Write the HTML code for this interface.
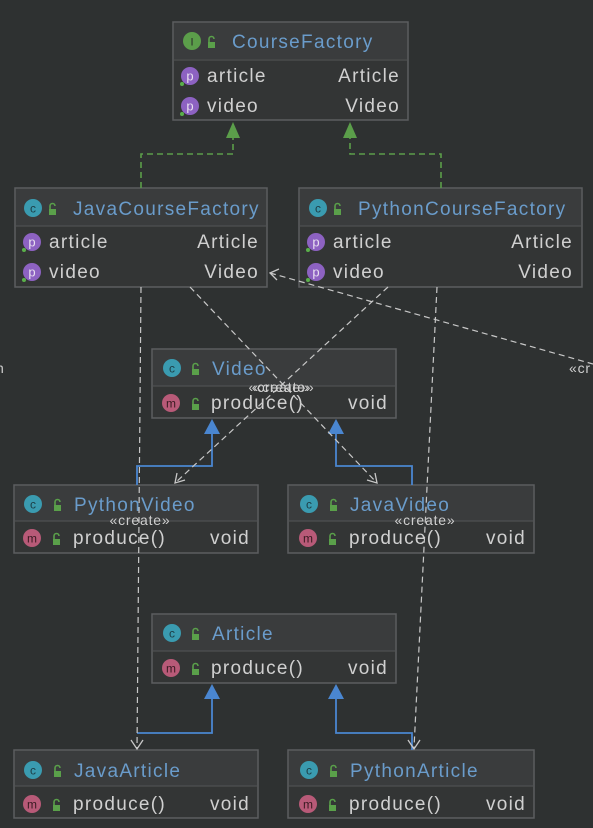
<!DOCTYPE html>
<html><head><meta charset="utf-8"><style>
html,body{margin:0;padding:0;background:#2e3131;}
svg{display:block}
text{font-family:"Liberation Sans","DejaVu Sans",sans-serif;}
.t{fill:#6a9ccb;font-size:19px;letter-spacing:1.3px}
.r{fill:#d0d0d0;font-size:19px;letter-spacing:1.3px}
.lbl{fill:#cfcfcf;font-size:14px;letter-spacing:0.8px}
</style></head><body>
<svg width="593" height="828" viewBox="0 0 593 828" xmlns="http://www.w3.org/2000/svg">
<defs>
<g id="lock"><rect x="-3" y="0" width="7" height="6" fill="#5aa04a"/><path d="M-2 0 v-3 a2.5 2.5 0 0 1 5 0" stroke="#5aa04a" stroke-width="1.6" fill="none"/></g>
</defs>
<rect width="593" height="828" fill="#2e3131"/>

<g stroke="#5c5e60" stroke-width="1.5">
<rect x="173" y="22" width="235" height="98" fill="#333535"/>
<rect x="15" y="188" width="252" height="99" fill="#333535"/>
<rect x="299" y="188" width="283" height="99" fill="#333535"/>
<rect x="152" y="349" width="244" height="69" fill="#333535"/>
<rect x="14" y="485" width="244" height="68" fill="#333535"/>
<rect x="288" y="485" width="246" height="68" fill="#333535"/>
<rect x="152" y="614" width="244" height="69" fill="#333535"/>
<rect x="14" y="750" width="244" height="68" fill="#333535"/>
<rect x="288" y="750" width="246" height="68" fill="#333535"/>
</g>
<g fill="#3a3c3d">
<rect x="174" y="23" width="233" height="36"/>
<rect x="16" y="189" width="250" height="37"/>
<rect x="300" y="189" width="281" height="37"/>
<rect x="153" y="350" width="242" height="36"/>
<rect x="15" y="486" width="242" height="35"/>
<rect x="289" y="486" width="244" height="35"/>
<rect x="153" y="615" width="242" height="36"/>
<rect x="15" y="751" width="242" height="35"/>
<rect x="289" y="751" width="244" height="35"/>
</g>
<g stroke="#4e5052" stroke-width="1.2">
<line x1="174" y1="60" x2="407" y2="60"/>
<line x1="16" y1="226" x2="266" y2="226"/>
<line x1="300" y1="226" x2="581" y2="226"/>
<line x1="153" y1="386" x2="395" y2="386"/>
<line x1="15" y1="521" x2="257" y2="521"/>
<line x1="289" y1="521" x2="533" y2="521"/>
<line x1="153" y1="651" x2="395" y2="651"/>
<line x1="15" y1="786" x2="257" y2="786"/>
<line x1="289" y1="786" x2="533" y2="786"/>
</g>

<circle cx="192" cy="41" r="9" fill="#5b9e4a"/><text x="192" y="45.5" font-size="11" fill="#2a2a2a" text-anchor="middle">I</text>
<use href="#lock" x="211" y="42"/>
<text class="t" x="232" y="48">CourseFactory</text>
<circle cx="190" cy="76" r="9" fill="#8d62c2"/><text x="190" y="80.5" font-size="13" fill="#e8e0f0" text-anchor="middle">p</text><circle cx="182" cy="84" r="2" fill="#5ab04a"/>
<text class="r" x="207" y="82">article</text><text class="r" x="400" y="82" text-anchor="end">Article</text>
<circle cx="190" cy="106" r="9" fill="#8d62c2"/><text x="190" y="110.5" font-size="13" fill="#e8e0f0" text-anchor="middle">p</text><circle cx="182" cy="114" r="2" fill="#5ab04a"/>
<text class="r" x="207" y="112">video</text><text class="r" x="400" y="112" text-anchor="end">Video</text>

<circle cx="33" cy="208" r="9" fill="#3a9bb0"/><text x="33" y="212.5" font-size="12" fill="#1d3d45" text-anchor="middle">c</text>
<use href="#lock" x="52" y="209"/>
<text class="t" x="73" y="215">JavaCourseFactory</text>
<circle cx="32" cy="242" r="9" fill="#8d62c2"/><text x="32" y="246.5" font-size="13" fill="#e8e0f0" text-anchor="middle">p</text><circle cx="24" cy="250" r="2" fill="#5ab04a"/>
<text class="r" x="49" y="248">article</text><text class="r" x="259" y="248" text-anchor="end">Article</text>
<circle cx="32" cy="272" r="9" fill="#8d62c2"/><text x="32" y="276.5" font-size="13" fill="#e8e0f0" text-anchor="middle">p</text><circle cx="24" cy="280" r="2" fill="#5ab04a"/>
<text class="r" x="49" y="278">video</text><text class="r" x="259" y="278" text-anchor="end">Video</text>

<circle cx="318" cy="208" r="9" fill="#3a9bb0"/><text x="318" y="212.5" font-size="12" fill="#1d3d45" text-anchor="middle">c</text>
<use href="#lock" x="337" y="209"/>
<text class="t" x="358" y="215">PythonCourseFactory</text>
<circle cx="316" cy="242" r="9" fill="#8d62c2"/><text x="316" y="246.5" font-size="13" fill="#e8e0f0" text-anchor="middle">p</text><circle cx="308" cy="250" r="2" fill="#5ab04a"/>
<text class="r" x="333" y="248">article</text><text class="r" x="573" y="248" text-anchor="end">Article</text>
<circle cx="316" cy="272" r="9" fill="#8d62c2"/><text x="316" y="276.5" font-size="13" fill="#e8e0f0" text-anchor="middle">p</text><circle cx="308" cy="280" r="2" fill="#5ab04a"/>
<text class="r" x="333" y="278">video</text><text class="r" x="573" y="278" text-anchor="end">Video</text>

<circle cx="172" cy="368" r="9" fill="#3a9bb0"/><text x="172" y="372.5" font-size="12" fill="#1d3d45" text-anchor="middle">c</text>
<use href="#lock" x="195" y="369"/>
<text class="t" x="212" y="375">Video</text>
<circle cx="171" cy="403" r="9" fill="#b85a78"/><text x="171" y="407.5" font-size="12" fill="#3a1a22" text-anchor="middle">m</text>
<use href="#lock" x="195" y="404"/>
<text class="r" x="211" y="409">produce()</text><text class="r" x="388" y="409" text-anchor="end">void</text>

<circle cx="33" cy="504" r="9" fill="#3a9bb0"/><text x="33" y="508.5" font-size="12" fill="#1d3d45" text-anchor="middle">c</text>
<use href="#lock" x="57" y="505"/>
<text class="t" x="74" y="511">PythonVideo</text>
<circle cx="32" cy="538" r="9" fill="#b85a78"/><text x="32" y="542.5" font-size="12" fill="#3a1a22" text-anchor="middle">m</text>
<use href="#lock" x="56" y="539"/>
<text class="r" x="73" y="544">produce()</text><text class="r" x="250" y="544" text-anchor="end">void</text>

<circle cx="309" cy="504" r="9" fill="#3a9bb0"/><text x="309" y="508.5" font-size="12" fill="#1d3d45" text-anchor="middle">c</text>
<use href="#lock" x="333" y="505"/>
<text class="t" x="350" y="511">JavaVideo</text>
<circle cx="308" cy="538" r="9" fill="#b85a78"/><text x="308" y="542.5" font-size="12" fill="#3a1a22" text-anchor="middle">m</text>
<use href="#lock" x="332" y="539"/>
<text class="r" x="349" y="544">produce()</text><text class="r" x="526" y="544" text-anchor="end">void</text>

<circle cx="172" cy="633" r="9" fill="#3a9bb0"/><text x="172" y="637.5" font-size="12" fill="#1d3d45" text-anchor="middle">c</text>
<use href="#lock" x="195" y="634"/>
<text class="t" x="212" y="640">Article</text>
<circle cx="171" cy="668" r="9" fill="#b85a78"/><text x="171" y="672.5" font-size="12" fill="#3a1a22" text-anchor="middle">m</text>
<use href="#lock" x="195" y="669"/>
<text class="r" x="211" y="674">produce()</text><text class="r" x="388" y="674" text-anchor="end">void</text>

<circle cx="33" cy="770" r="9" fill="#3a9bb0"/><text x="33" y="774.5" font-size="12" fill="#1d3d45" text-anchor="middle">c</text>
<use href="#lock" x="57" y="771"/>
<text class="t" x="74" y="777">JavaArticle</text>
<circle cx="32" cy="804" r="9" fill="#b85a78"/><text x="32" y="808.5" font-size="12" fill="#3a1a22" text-anchor="middle">m</text>
<use href="#lock" x="56" y="805"/>
<text class="r" x="73" y="810">produce()</text><text class="r" x="250" y="810" text-anchor="end">void</text>

<circle cx="309" cy="770" r="9" fill="#3a9bb0"/><text x="309" y="774.5" font-size="12" fill="#1d3d45" text-anchor="middle">c</text>
<use href="#lock" x="333" y="771"/>
<text class="t" x="350" y="777">PythonArticle</text>
<circle cx="308" cy="804" r="9" fill="#b85a78"/><text x="308" y="808.5" font-size="12" fill="#3a1a22" text-anchor="middle">m</text>
<use href="#lock" x="332" y="805"/>
<text class="r" x="349" y="810">produce()</text><text class="r" x="526" y="810" text-anchor="end">void</text>

<g stroke="#5b9e4a" stroke-width="1.6" fill="none" stroke-dasharray="6,4">
<polyline points="141,188 141,154 233,154 233,138"/>
<polyline points="441,188 441,154 350,154 350,138"/>
</g>
<polygon points="233,122 226,138 240,138" fill="#5b9e4a"/>
<polygon points="350,122 343,138 357,138" fill="#5b9e4a"/>

<g stroke="#4a86d0" stroke-width="1.8" fill="none">
<polyline points="137,485 137,466 212,466 212,434"/>
<polyline points="412,485 412,466 336,466 336,434"/>
<polyline points="137,733 212,733 212,699"/>
<polyline points="412,750 412,733 336,733 336,699"/>
</g>
<g fill="#4a86d0">
<polygon points="212,419 204,434 220,434"/>
<polygon points="336,419 328,434 344,434"/>
<polygon points="212,684 204,699 220,699"/>
<polygon points="336,684 328,699 344,699"/>
</g>

<g stroke="#c8c8c8" stroke-width="1.2" fill="none" stroke-dasharray="6,4">
<line x1="141" y1="287" x2="137" y2="748"/>
<line x1="437" y1="287" x2="414" y2="748"/>
<line x1="190" y1="287" x2="377" y2="483"/>
<line x1="388" y1="287" x2="175" y2="483"/>
<line x1="270" y1="273" x2="593" y2="364"/>
</g>
<g stroke="#c8c8c8" stroke-width="1.3" fill="none">
<polyline points="131,740 137,749 143,740"/>
<polyline points="408,740 414,749 420,740"/>
<polyline points="367,480 377,483 375,473"/>
<polyline points="177,473 175,483 185,480"/>
<polyline points="279,269 270,273 277,280"/>
</g>

<text class="lbl" x="284" y="392" text-anchor="middle">«create»</text>
<text class="lbl" x="279" y="392" text-anchor="middle">«create»</text>
<text class="lbl" x="140" y="525" text-anchor="middle">«create»</text>
<text class="lbl" x="425" y="525" text-anchor="middle">«create»</text>
<text class="lbl" x="569" y="373">«cr</text>
<text class="lbl" x="-4" y="373">n</text>
</svg>
</body></html>
